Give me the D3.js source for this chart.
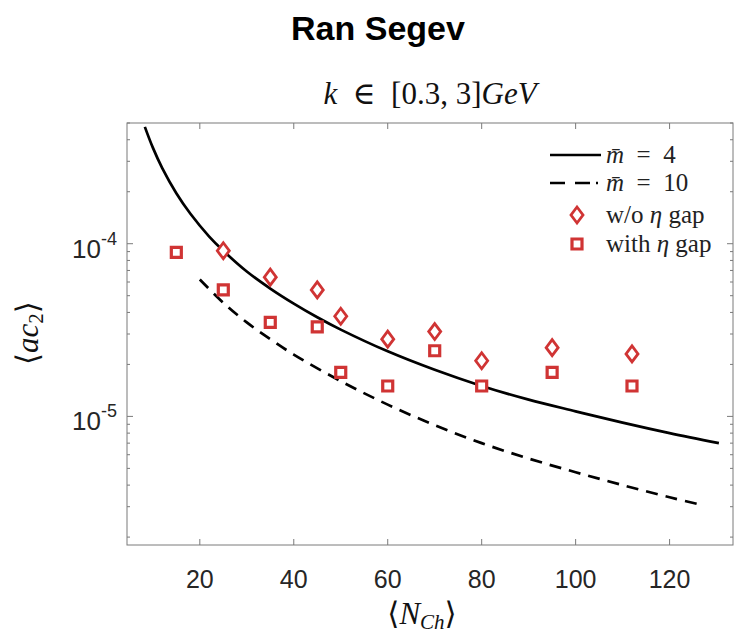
<!DOCTYPE html>
<html>
<head>
<meta charset="utf-8">
<script src="https://cdn.jsdelivr.net/npm/d3@7"></script>
<style>
  html, body { margin: 0; padding: 0; background: #fff; }
  svg { display: block; }
</style>
</head>
<body>
<svg id="chart" width="744" height="635"></svg>
<script>
// ---------------- data ----------------
const xTicks = [20, 40, 60, 80, 100, 120];
const yMajorTicks = [1e-5, 1e-4];
const yMajorExp = ["-5", "-4"];

// model curve  m̄ = 4 (solid)
const nchM4 = [8.3, 10, 12, 15, 18, 22, 25, 30, 35, 40, 45, 50, 60, 70, 80, 90, 100, 110, 120, 130.5];
const ac2M4 = [4.75e-4, 3.6e-4, 2.74e-4, 1.96e-4, 1.49e-4, 1.1e-4, 9.1e-5, 6.9e-5, 5.5e-5, 4.5e-5, 3.75e-5, 3.18e-5, 2.38e-5, 1.86e-5, 1.5e-5, 1.25e-5, 1.07e-5, 9.2e-6, 8.0e-6, 7.0e-6];

// model curve  m̄ = 10 (dashed)
const nchM10 = [20, 25, 30, 35, 40, 50, 60, 70, 80, 90, 100, 110, 120, 126.6];
const ac2M10 = [6.2e-5, 4.55e-5, 3.5e-5, 2.8e-5, 2.28e-5, 1.6e-5, 1.17e-5, 8.9e-6, 7.0e-6, 5.7e-6, 4.75e-6, 4.0e-6, 3.4e-6, 3.08e-6];

// data: w/o eta gap (diamonds)
const nchWo = [25, 35, 45, 50, 60, 70, 80, 95, 112];
const ac2Wo = [9.1e-5, 6.4e-5, 5.4e-5, 3.8e-5, 2.8e-5, 3.1e-5, 2.1e-5, 2.5e-5, 2.3e-5];

// data: with eta gap (squares)
const nchWith = [15, 25, 35, 45, 50, 60, 70, 80, 95, 112];
const ac2With = [8.9e-5, 5.4e-5, 3.5e-5, 3.3e-5, 1.8e-5, 1.5e-5, 2.4e-5, 1.5e-5, 1.8e-5, 1.5e-5];

// ---------------- layout ----------------
const L = 127, R = 733, T = 123, B = 545;
const red = "#d03434";
const axisColor = "#7a7a7a";
const textColor = "#262626";
const serif = "'Liberation Serif', 'DejaVu Serif', serif";
const sans = "'Liberation Sans', Arial, sans-serif";

const svg = d3.select("#chart");

const x = d3.scaleLinear().domain([4.5, 133.5]).range([L, R]);
const y = d3.scaleLog().domain([1.8e-6, 5e-4]).range([B, T]);
const cx = (L + R) / 2;

// title
svg.append("text")
  .attr("x", 378).attr("y", 40)
  .attr("text-anchor", "middle")
  .attr("font-family", sans).attr("font-weight", "bold")
  .attr("font-size", 34).attr("fill", "#000")
  .text("Ran Segev");

// subtitle  k ∈ [0.3,3]GeV
const sub = svg.append("text")
  .attr("x", cx).attr("y", 104)
  .attr("text-anchor", "middle")
  .attr("font-family", serif).attr("font-size", 31).attr("fill", "#111");
sub.append("tspan").attr("font-style", "italic").text("k");
sub.append("tspan").text("\u2002\u2208\u2002[0.3, 3]");
sub.append("tspan").attr("font-style", "italic").text("GeV");

// frame
svg.append("rect")
  .attr("x", L).attr("y", T).attr("width", R - L).attr("height", B - T)
  .attr("fill", "none").attr("stroke", axisColor).attr("stroke-width", 1);

// x ticks (bottom + top, inward)
const gx = svg.append("g");
xTicks.forEach(t => {
  gx.append("line").attr("x1", x(t)).attr("x2", x(t)).attr("y1", B).attr("y2", B - 6)
    .attr("stroke", axisColor);
  gx.append("line").attr("x1", x(t)).attr("x2", x(t)).attr("y1", T).attr("y2", T + 6)
    .attr("stroke", axisColor);
  gx.append("text").attr("x", x(t)).attr("y", 588)
    .attr("text-anchor", "middle").attr("font-family", sans).attr("font-size", 25)
    .attr("fill", textColor).text(t);
});

// y ticks (log, major + minor, left + right, inward)
const gy = svg.append("g");
const yMinor = [];
[1e-6, 1e-5, 1e-4].forEach(d => {
  for (let k = 2; k <= 9; k++) {
    const v = k * d;
    if (v >= y.domain()[0] && v <= y.domain()[1]) yMinor.push(v);
  }
});
yMinor.forEach(v => {
  gy.append("line").attr("x1", L).attr("x2", L + 3).attr("y1", y(v)).attr("y2", y(v)).attr("stroke", axisColor);
  gy.append("line").attr("x1", R).attr("x2", R - 3).attr("y1", y(v)).attr("y2", y(v)).attr("stroke", axisColor);
});
yMajorTicks.forEach((v, i) => {
  gy.append("line").attr("x1", L).attr("x2", L + 6).attr("y1", y(v)).attr("y2", y(v)).attr("stroke", axisColor);
  gy.append("line").attr("x1", R).attr("x2", R - 6).attr("y1", y(v)).attr("y2", y(v)).attr("stroke", axisColor);
  const t = gy.append("text").attr("x", 117).attr("y", y(v) + 14)
    .attr("text-anchor", "end").attr("font-family", sans).attr("font-size", 26).attr("fill", textColor);
  t.append("tspan").text("10");
  t.append("tspan").attr("font-size", 18).attr("dy", -13).text(yMajorExp[i]);
});

// axis labels
const xl = svg.append("text")
  .attr("x", cx - 8).attr("y", 624).attr("text-anchor", "middle")
  .attr("font-family", serif).attr("font-size", 31).attr("fill", "#111");
xl.append("tspan").text("\u27E8");
xl.append("tspan").attr("font-style", "italic").text("N");
xl.append("tspan").attr("font-style", "italic").attr("font-size", 21).attr("dy", 5).text("Ch");
xl.append("tspan").attr("dy", -5).text("\u27E9");

const yl = svg.append("text")
  .attr("transform", "translate(38,333) rotate(-90)")
  .attr("text-anchor", "middle")
  .attr("font-family", serif).attr("font-size", 31).attr("fill", "#111");
yl.append("tspan").text("\u27E8");
yl.append("tspan").attr("font-style", "italic").text("ac");
yl.append("tspan").attr("font-size", 21).attr("dy", 5).text("2");
yl.append("tspan").attr("dy", -5).text("\u27E9");

// clip
svg.append("clipPath").attr("id", "clip").append("rect")
  .attr("x", L).attr("y", T).attr("width", R - L).attr("height", B - T);
const plot = svg.append("g").attr("clip-path", "url(#clip)");

const line = d3.line().x(d => x(d[0])).y(d => y(d[1])).curve(d3.curveCatmullRom.alpha(0.5));

plot.append("path")
  .datum(d3.zip(nchM4, ac2M4))
  .attr("d", line).attr("fill", "none").attr("stroke", "#000").attr("stroke-width", 2.7);

plot.append("path")
  .datum(d3.zip(nchM10, ac2M10))
  .attr("d", line).attr("fill", "none").attr("stroke", "#000").attr("stroke-width", 2.7)
  .attr("stroke-dasharray", "12,8");

// marker shapes
const diamondPath = "M0,-8L6,0L0,8L-6,0Z";
const squarePath = "M-5,-5H5V5H-5Z";

plot.selectAll("path.wo").data(d3.zip(nchWo, ac2Wo)).join("path")
  .attr("class", "wo")
  .attr("transform", d => `translate(${x(d[0])},${y(d[1])})`)
  .attr("d", diamondPath)
  .attr("fill", "#fff").attr("stroke", red).attr("stroke-width", 2.8);

plot.selectAll("path.wi").data(d3.zip(nchWith, ac2With)).join("path")
  .attr("class", "wi")
  .attr("transform", d => `translate(${x(d[0])},${y(d[1])})`)
  .attr("d", squarePath)
  .attr("fill", "#fff").attr("stroke", red).attr("stroke-width", 3.2);

// legend
const lg = svg.append("g");
const legX1 = 550, legX2 = 601, legTx = 606, legMx = 577;
const legY = [155, 183, 215, 244];
lg.append("line").attr("x1", legX1).attr("x2", legX2).attr("y1", legY[0]).attr("y2", legY[0])
  .attr("stroke", "#000").attr("stroke-width", 2.7);
lg.append("line").attr("x1", legX1).attr("x2", legX2).attr("y1", legY[1]).attr("y2", legY[1])
  .attr("stroke", "#000").attr("stroke-width", 2.7).attr("stroke-dasharray", "15,10,15,6,2,10");
lg.append("path").attr("transform", `translate(${legMx},${legY[2]})`).attr("d", diamondPath)
  .attr("fill", "#fff").attr("stroke", red).attr("stroke-width", 2.8);
lg.append("path").attr("transform", `translate(${legMx},${legY[3]})`).attr("d", squarePath)
  .attr("fill", "#fff").attr("stroke", red).attr("stroke-width", 3.2);

const legendLabels = [
  [["m\u0304", true], ["\u2002=\u20024", false]],
  [["m\u0304", true], ["\u2002=\u200210", false]],
  [["w/o ", false], ["\u03B7", true], [" gap", false]],
  [["with ", false], ["\u03B7", true], [" gap", false]]
];
legendLabels.forEach((parts, i) => {
  const t = lg.append("text").attr("x", legTx).attr("y", legY[i] + 8)
    .attr("font-family", serif).attr("font-size", 25).attr("fill", "#222");
  parts.forEach(p => t.append("tspan").attr("font-style", p[1] ? "italic" : "normal").text(p[0]));
});
</script>
</body>
</html>
